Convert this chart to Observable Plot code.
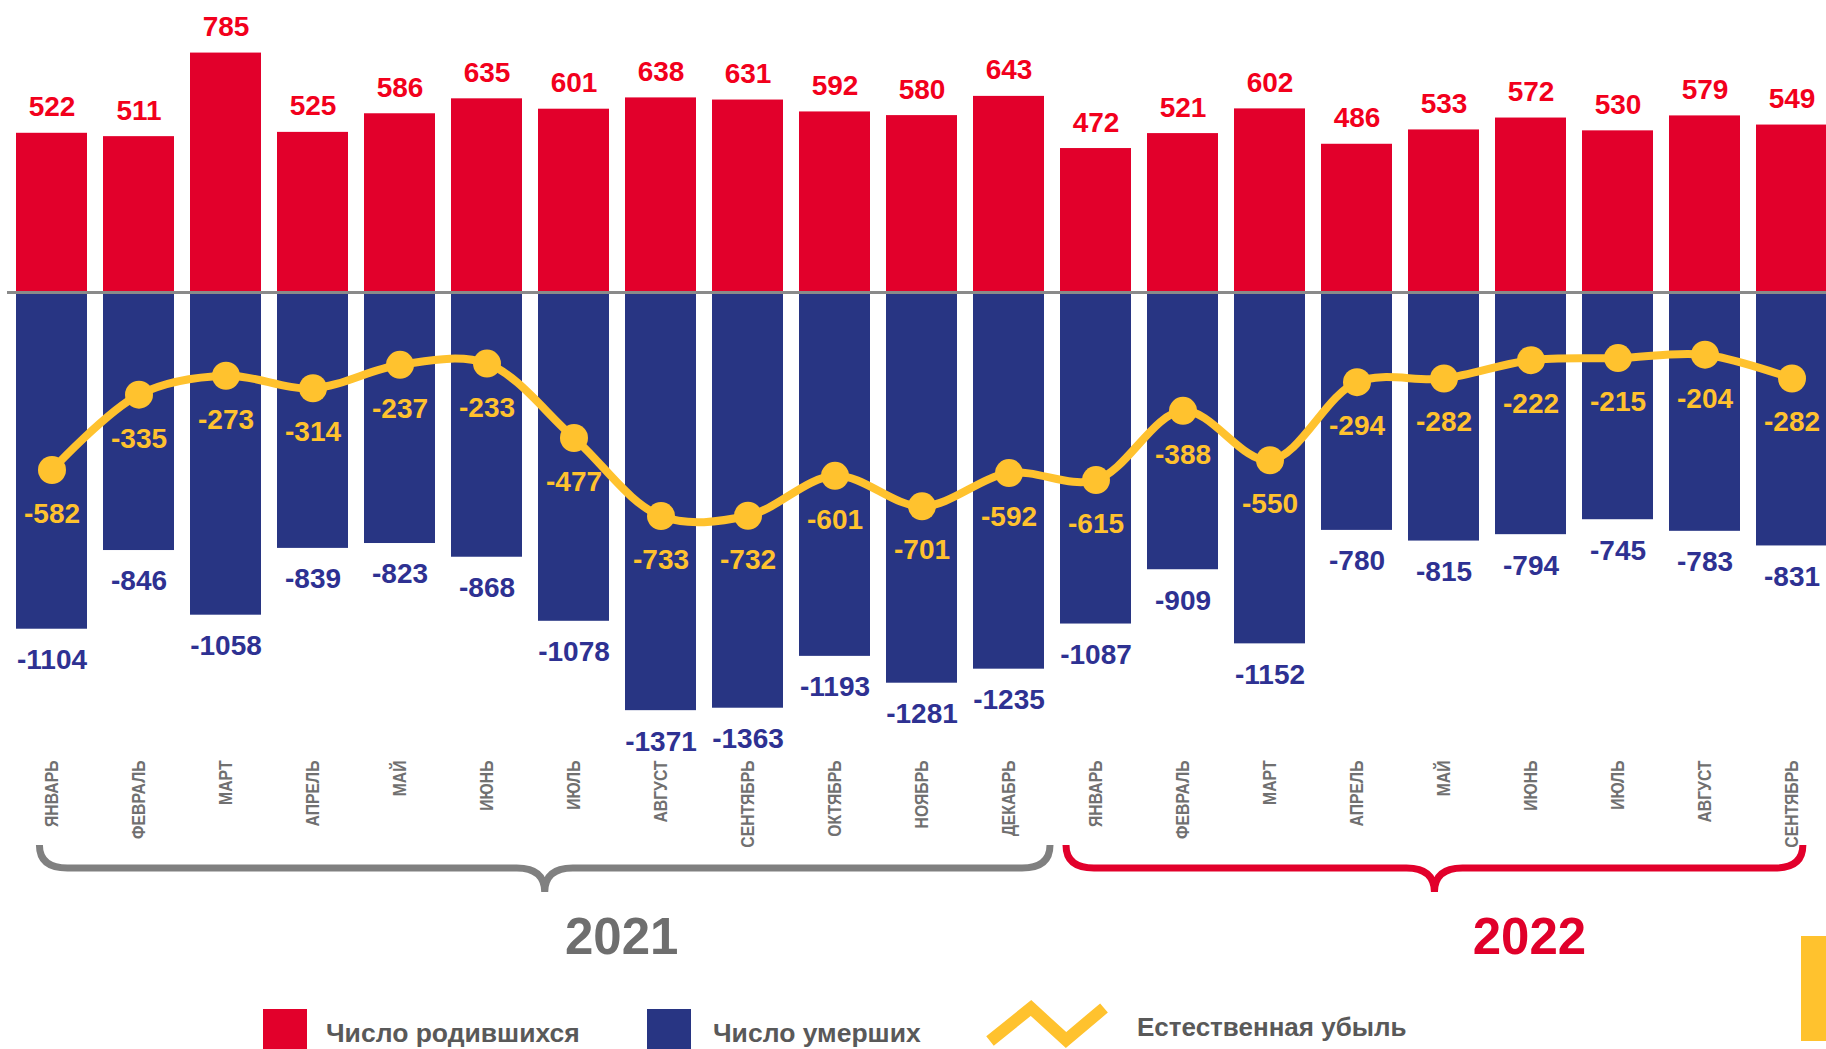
<!DOCTYPE html>
<html>
<head>
<meta charset="utf-8">
<script src="https://cdn.jsdelivr.net/npm/d3@7"></script>
<script src="https://cdn.jsdelivr.net/npm/@observablehq/plot@0.6"></script>
<style>
  html, body { margin: 0; padding: 0; background: #ffffff; }
  #wrap { position: relative; width: 1826px; height: 1049px; overflow: hidden; }
  #wrap svg { display: block; }
  #deco { position: absolute; left: 1801px; top: 936px; width: 25px; height: 105px; background: #FFC22E; }
</style>
</head>
<body>
<div id="wrap"></div>
<script>
// ---------- data ----------
const periods = ["2021-01","2021-02","2021-03","2021-04","2021-05","2021-06","2021-07","2021-08","2021-09","2021-10","2021-11","2021-12",
                 "2022-01","2022-02","2022-03","2022-04","2022-05","2022-06","2022-07","2022-08","2022-09"];
const months = ["ЯНВАРЬ","ФЕВРАЛЬ","МАРТ","АПРЕЛЬ","МАЙ","ИЮНЬ","ИЮЛЬ","АВГУСТ","СЕНТЯБРЬ","ОКТЯБРЬ","НОЯБРЬ","ДЕКАБРЬ",
                "ЯНВАРЬ","ФЕВРАЛЬ","МАРТ","АПРЕЛЬ","МАЙ","ИЮНЬ","ИЮЛЬ","АВГУСТ","СЕНТЯБРЬ"];
const births = [522, 511, 785, 525, 586, 635, 601, 638, 631, 592, 580, 643,
                472, 521, 602, 486, 533, 572, 530, 579, 549];
const deaths = [-1104, -846, -1058, -839, -823, -868, -1078, -1371, -1363, -1193, -1281, -1235,
                -1087, -909, -1152, -780, -815, -794, -745, -783, -831];
const natural = [-582, -335, -273, -314, -237, -233, -477, -733, -732, -601, -701, -592,
                 -615, -388, -550, -294, -282, -222, -215, -204, -282];
const years = ["2021", "2022"];
const legendLabels = ["Число родившихся", "Число умерших", "Естественная убыль"];

// ---------- styles ----------
const RED = "#E2002B", BLUE = "#283583", YEL = "#FFC22E";
const RED_TXT = "#F2001C", BLUE_TXT = "#2E3192", YEL_TXT = "#FFC22E";
const GRAY = "#808080", MONTH_TXT = "#707070", LEG_TXT = "#595959";
const FONT = "'Liberation Sans', Arial, Helvetica, sans-serif";

const rows = periods.map((p, i) => ({p, month: months[i], births: births[i], deaths: deaths[i], natural: natural[i]}));

const W = 1826, H = 1000, MT = 48, MB = 281;

function braces(index, scales, values, dims) {
  const x = scales.x, bw = x.bandwidth();
  const base = dims.height - dims.marginBottom;
  const yTop = base + 126, yMid = base + 149, yTip = base + 173, r = 28;
  const specs = [
    {year: years[0], x0: x(periods[0]) + 0.33 * bw, x1: x(periods[11]) + bw + 6, stroke: GRAY, fill: "#6e6e6e", dx: 77},
    {year: years[1], x0: x(periods[12]) + 6, x1: x(periods[20]) + 0.66 * bw, stroke: RED, fill: "#E0002A", dx: 95}
  ];
  const g = d3.create("svg:g");
  for (const s of specs) {
    const m = (s.x0 + s.x1) / 2;
    const d = `M${s.x0},${yTop} Q${s.x0},${yMid} ${s.x0 + r},${yMid} L${m - r},${yMid} Q${m},${yMid} ${m},${yTip} ` +
              `M${m},${yTip} Q${m},${yMid} ${m + r},${yMid} L${s.x1 - r},${yMid} Q${s.x1},${yMid} ${s.x1},${yTop}`;
    g.append("path").attr("d", d).attr("fill", "none").attr("stroke", s.stroke)
      .attr("stroke-width", 7).attr("stroke-linecap", "butt").attr("stroke-linejoin", "round");
    g.append("text").attr("x", m + s.dx).attr("y", base + 235).attr("text-anchor", "middle")
      .attr("font-family", FONT).attr("font-weight", "bold").attr("font-size", 51)
      .attr("fill", s.fill).text(s.year);
  }
  return g.node();
}

const chart = Plot.plot({
  width: W,
  height: H,
  marginTop: MT,
  marginBottom: MB,
  marginLeft: 7,
  marginRight: 0,
  style: {background: "#ffffff", fontFamily: FONT},
  x: {type: "band", domain: periods, range: [0, 1843], paddingInner: 0.18, paddingOuter: 0.18, axis: null},
  y: {domain: [-1400, 800], axis: null},
  marks: [
    Plot.barY(rows, {x: "p", y1: 0, y2: "births", fill: RED}),
    Plot.barY(rows, {x: "p", y1: 0, y2: "deaths", fill: BLUE}),
    Plot.ruleY([0], {stroke: "#8a8a8a", strokeWidth: 3}),
    Plot.line(rows, {x: "p", y: "natural", curve: "catmull-rom", stroke: YEL, strokeWidth: 8}),
    Plot.dot(rows, {x: "p", y: "natural", r: 14, fill: YEL, stroke: "none"}),
    Plot.text(rows, {x: "p", y: "births", text: d => String(d.births), lineAnchor: "bottom", dy: -17,
      fill: RED_TXT, fontSize: 28, fontWeight: "bold", fontFamily: FONT}),
    Plot.text(rows, {x: "p", y: "deaths", text: d => String(d.deaths), lineAnchor: "top", dy: 20,
      fill: BLUE_TXT, fontSize: 28, fontWeight: "bold", fontFamily: FONT}),
    Plot.text(rows, {x: "p", y: "natural", text: d => String(d.natural), lineAnchor: "middle", dy: 44,
      fill: YEL_TXT, fontSize: 28, fontWeight: "bold", fontFamily: FONT}),
    Plot.text(rows, {x: "p", text: "month", frameAnchor: "bottom", dy: 41, rotate: -90, textAnchor: "end",
      lineAnchor: "middle", fill: MONTH_TXT, fontSize: 19, fontWeight: "bold", fontFamily: FONT}),
    braces
  ]
});

// condense the rotated month labels along their reading direction (narrow face look)
d3.select(chart).selectAll("text").filter(function() {
  const t = this.getAttribute("transform");
  return t && t.includes("rotate(-90)");
}).attr("transform", function() { return this.getAttribute("transform") + " scale(0.83,1)"; });

const wrap = document.getElementById("wrap");
wrap.appendChild(chart);

// ---------- legend (below the chart SVG) ----------
const leg = d3.create("svg").attr("width", W).attr("height", 49).attr("viewBox", `0 0 ${W} 49`);
leg.append("rect").attr("x", 263).attr("y", 9).attr("width", 44).attr("height", 44).attr("fill", RED);
leg.append("text").attr("x", 326).attr("y", 42).text(legendLabels[0]);
leg.append("rect").attr("x", 647).attr("y", 9).attr("width", 44).attr("height", 44).attr("fill", BLUE);
leg.append("text").attr("x", 713).attr("y", 42).text(legendLabels[1]);
leg.append("polyline").attr("points", "990,41 1031,8 1066,40 1104,8")
  .attr("fill", "none").attr("stroke", YEL).attr("stroke-width", 12).attr("stroke-linejoin", "miter");
leg.append("text").attr("x", 1137).attr("y", 36).style("font-size", "26px").text(legendLabels[2]);
leg.selectAll("text").attr("font-family", FONT).attr("font-weight", "bold").attr("fill", LEG_TXT)
  .each(function() { if (!this.style.fontSize) this.style.fontSize = "26.5px"; });
wrap.appendChild(leg.node());

const deco = document.createElement("div");
deco.id = "deco";
wrap.appendChild(deco);
</script>
</body>
</html>
